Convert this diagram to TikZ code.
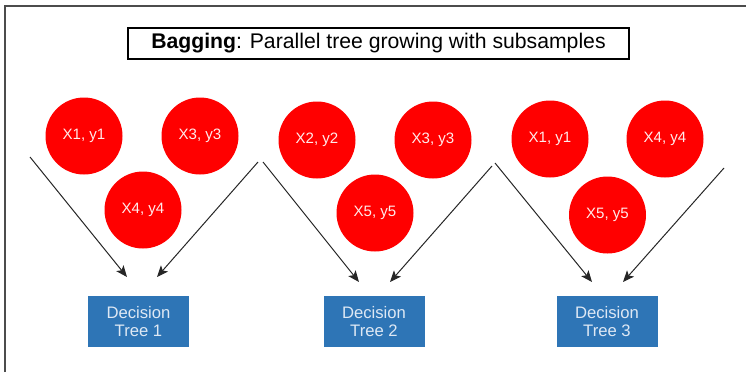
\documentclass[tikz,border=0pt]{standalone}
\usepackage{fontspec}
\setmainfont{Liberation Sans}
\usetikzlibrary{arrows.meta}

\definecolor{sampred}{RGB}{255,0,0}
\definecolor{treeblue}{RGB}{46,117,182}
\definecolor{treetext}{RGB}{222,232,244}

\tikzset{
 sample/.style={circle, fill=sampred, text=white!92!red, minimum size=57.75pt, inner sep=0pt, font=\fontsize{11.3}{13}\selectfont},
 treebox/.style={fill=treeblue, text=treetext, minimum width=75.75pt, minimum height=38.25pt, inner sep=0pt, align=center, font=\fontsize{12.5}{14}\selectfont},
 feed/.style={-{Stealth[length=8.5pt,width=7pt,inset=2pt]}, black!85, line width=0.75pt}
}

\begin{document}
\begin{tikzpicture}[x=0.75pt,y=-0.75pt]
\useasboundingbox (0,0) rectangle (746,372);
\draw[line width=1.1pt, black!70] (5,372) -- (5,6) -- (746,6);
\node[draw, line width=0.9pt, minimum width=375.75pt, minimum height=23.25pt, inner sep=0pt, font=\fontsize{15.9}{18}\selectfont] (title) at (378.5,43.5) {\textbf{Bagging}: Parallel tree growing with subsamples};

% subsamples
\node[sample] (s1a) at (84,136) {X1, y1};
\node[sample] (s1b) at (200,136) {X3, y3};
\node[sample] (s1c) at (143,210) {X4, y4};
\node[sample] (s2a) at (317,140) {X2, y2};
\node[sample] (s2b) at (433,140) {X3, y3};
\node[sample] (s2c) at (375,213) {X5, y5};
\node[sample] (s3a) at (550,139) {X1, y1};
\node[sample] (s3b) at (665,139) {X4, y4};
\node[sample] (s3c) at (607.5,215) {X5, y5};

% trees
\node[treebox] (t1) at (138.5,321.5) {Decision\\Tree 1};
\node[treebox] (t2) at (374,321.5) {Decision\\Tree 2};
\node[treebox] (t3) at (607,321.5) {Decision\\Tree 3};

% arrows
\coordinate (a1l) at (30,157);  \coordinate (b1l) at (127,277);
\coordinate (a1r) at (258,162); \coordinate (b1r) at (157,277);
\coordinate (a2l) at (263,162); \coordinate (b2l) at (359,282);
\coordinate (a2r) at (492,166); \coordinate (b2r) at (390,282);
\coordinate (a3l) at (495,163); \coordinate (b3l) at (592,282);
\coordinate (a3r) at (724,168); \coordinate (b3r) at (623,282);
\foreach \t in {1,2,3}{
  \draw[feed] (a\t l) -- (b\t l);
  \draw[feed] (a\t r) -- (b\t r);
}
\end{tikzpicture}
\end{document}
